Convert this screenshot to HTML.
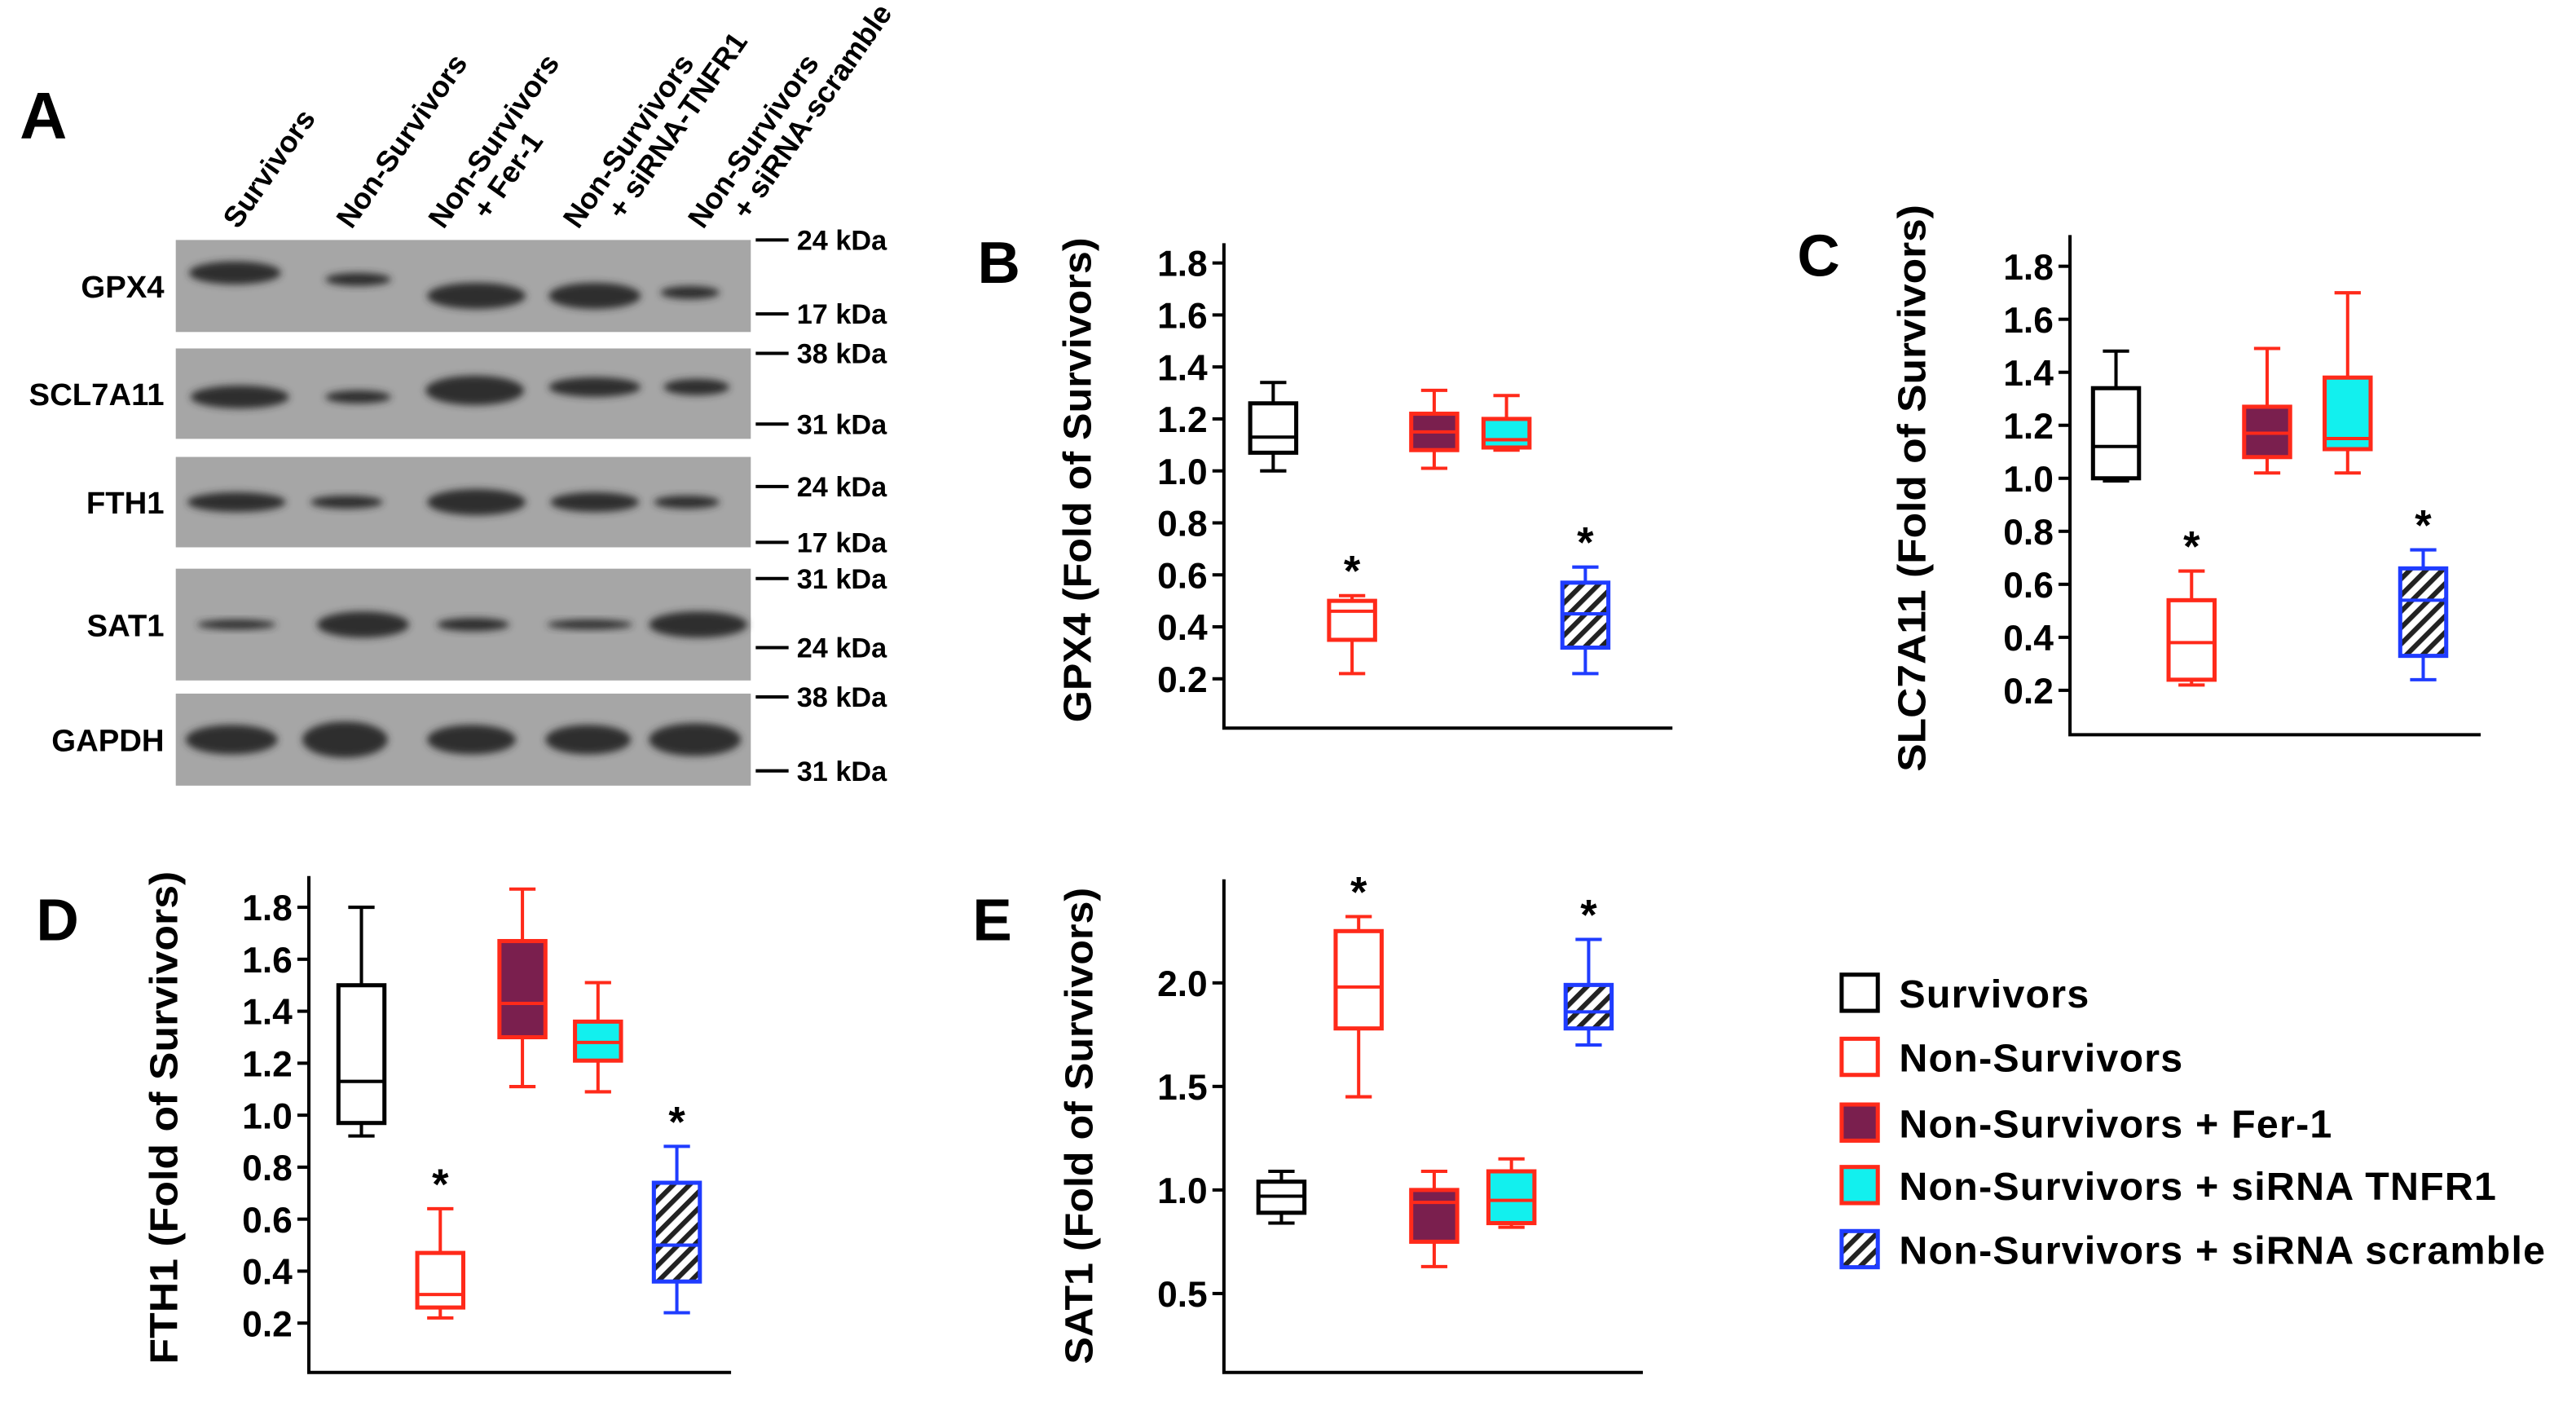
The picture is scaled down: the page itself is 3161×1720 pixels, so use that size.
<!DOCTYPE html>
<html><head><meta charset="utf-8"><style>
html,body{margin:0;padding:0;background:#fff;}
svg{display:block;}
text{font-family:"Liberation Sans",Arial,sans-serif;font-weight:bold;}
</style></head><body>
<svg id="fig" width="3161" height="1720" viewBox="0 0 1568 853" preserveAspectRatio="none" xmlns="http://www.w3.org/2000/svg">
<defs>
<pattern id="hatch" patternUnits="userSpaceOnUse" width="7" height="7" patternTransform="rotate(45)">
<rect width="7" height="7" fill="#fff"/><rect width="3" height="7" fill="#222"/></pattern>
<filter id="blur" x="-20%" y="-50%" width="140%" height="200%"><feGaussianBlur stdDeviation="2.2"/></filter>
</defs>
<g id="panelA"></g>
<g id="charts"></g>
<g id="legend"></g>
</svg>
<script>
const NS='http://www.w3.org/2000/svg';
function mk(tag,attrs,parent,txt){const e=document.createElementNS(NS,tag);for(const k in attrs)e.setAttribute(k,attrs[k]);if(txt!==undefined)e.textContent=txt;parent.appendChild(e);return e;}

// ---------- Panel A (blots) ----------
const A=document.getElementById('panelA');
let t=mk('text',{x:12,y:84,'font-size':40},A,'A');

const laneNames=[['Survivors'],['Non-Survivors'],['Non-Survivors','+ Fer-1'],['Non-Survivors','+ siRNA-TNFR1'],['Non-Survivors','+ siRNA-scramble']];
const laneX=[145,214,270,352,428];
laneNames.forEach((ln,i)=>{
  const g=mk('g',{transform:`translate(${laneX[i]},140) rotate(-55)`},A);
  
  ln.forEach((s,j)=>mk('text',{x:j?20:0,y:j*19,'font-size':18,'font-weight':'normal'},g,s));
});
const blots=[
 {name:'GPX4',y:146,h:56,k:['24 kDa','17 kDa'],kt:[146,191],bands:[[143,13,28,7],[218,9,20,4],[290,15,30,8],[362,14,28,8],[420,12,18,4]],off:[-8,-4,6,6,4]},
 {name:'SCL7A11',y:212,h:55,k:['38 kDa','31 kDa'],kt:[215,258],bands:[[146,13,30,7],[218,9,20,4],[289,15,30,9],[362,13,28,6],[424,10,20,5]],off:[2,2,-2,-4,-4]},
 {name:'FTH1',y:278,h:55,k:['24 kDa','17 kDa'],kt:[296,330],bands:[[144,12,30,6],[211,9,22,4],[290,13,30,8],[362,11,27,6],[418,11,20,4]],off:[0,0,0,0,0]},
 {name:'SAT1',y:346,h:68,k:['31 kDa','24 kDa'],kt:[352,394],bands:[[144,11,24,3],[221,12,28,8],[288,10,22,4],[359,10,26,3],[425,12,30,8]],off:[0,0,0,0,0]},
 {name:'GAPDH',y:422,h:56,k:['38 kDa','31 kDa'],kt:[424,469],bands:[[141,14,28,9],[210,14,26,11],[287,13,27,9],[358,13,26,9],[423,13,28,10]],off:[0,0,0,0,0]}
];
blots.forEach(b=>{
  const g=mk('g',{},A);
  
  mk('rect',{x:107,y:b.y,width:350,height:b.h,fill:'#a6a6a6'},g);
  const cy=b.y+b.h/2;
  b.bands.forEach((bd,i)=>mk('ellipse',{cx:bd[0],cy:cy+b.off[i],rx:bd[2],ry:bd[3],fill:'#2e2e2e',filter:'url(#blur)'},g));
  mk('text',{x:100,y:cy+7,'font-size':19,'text-anchor':'end'},g,b.name);
  b.kt.forEach((ty,j)=>{mk('line',{x1:460,x2:480,y1:ty,y2:ty,stroke:'#000','stroke-width':2},g);
    mk('text',{x:485,y:ty+6,'font-size':17,'font-weight':'normal'},g,b.k[j]);});
});

// ---------- Chart data ----------
const groups=['Survivors','Non-Survivors','Non-Survivors + Fer-1','Non-Survivors + siRNA TNFR1','Non-Survivors + siRNA scramble'];
const gpx4Min=[1.00,0.22,1.01,1.08,0.22], gpx4Q1=[1.07,0.35,1.08,1.09,0.32], gpx4Med=[1.13,0.46,1.15,1.12,0.45], gpx4Q3=[1.26,0.50,1.22,1.20,0.57], gpx4Max=[1.34,0.52,1.31,1.29,0.63];
const slcMin=[0.99,0.22,1.02,1.02,0.24], slcQ1=[1.00,0.24,1.08,1.11,0.33], slcMed=[1.12,0.38,1.17,1.15,0.54], slcQ3=[1.34,0.54,1.27,1.38,0.66], slcMax=[1.48,0.65,1.49,1.70,0.73];
const fthMin=[0.92,0.22,1.11,1.09,0.24], fthQ1=[0.97,0.26,1.30,1.21,0.36], fthMed=[1.13,0.31,1.43,1.28,0.50], fthQ3=[1.50,0.47,1.67,1.36,0.74], fthMax=[1.80,0.64,1.87,1.51,0.88];
const satMin=[0.84,1.45,0.63,0.82,1.70], satQ1=[0.89,1.78,0.75,0.84,1.78], satMed=[0.97,1.98,0.94,0.95,1.86], satQ3=[1.04,2.25,1.00,1.09,1.99], satMax=[1.09,2.32,1.09,1.15,2.21];
const sigFlags=[false,true,false,false,true];
const ticksA=['0.2','0.4','0.6','0.8','1.0','1.2','1.4','1.6','1.8'];
const ticksE=['0.5','1.0','1.5','2.0'];

const strokeC=['#000','#ff2a1a','#ff2a1a','#ff2a1a','#1f3cff'];
const fillC=['#fff','#fff','#7a1f4e','#12f0ee','url(#hatch)'];

function chart(o){
  const g=mk('g',{},document.getElementById('charts'));
  
  const y=v=>o.y0+(v-o.v0)*(o.y1-o.y0)/(o.v1-o.v0);
  let l=mk('text',{x:o.lx,y:o.ly,'font-size':36},g,o.letter);
  
  let ax=mk('path',{d:`M${o.ax},${o.top}V${o.bot}H${o.right}`,fill:'none',stroke:'#000','stroke-width':2},g);
  
  o.ticks.forEach(tk=>{const ty=y(parseFloat(tk));
    mk('line',{x1:o.ax-7,x2:o.ax,y1:ty,y2:ty,stroke:'#000','stroke-width':2},g);
    const tl=mk('text',{x:o.ax-10,y:ty+8,'font-size':22,'text-anchor':'end'},g,tk);
    });
  const tt=mk('text',{x:0,y:0,'font-size':24,'text-anchor':'middle',textLength:o.tl,lengthAdjust:'spacingAndGlyphs',transform:`translate(${o.tx},${o.ty}) rotate(-90)`},g,o.title);
  
  groups.forEach((gn,i)=>{
    const bx=o.xs[i],w=14;
    const bg=mk('g',{},g);
    
    const sc=strokeC[i];
    mk('line',{x1:bx,x2:bx,y1:y(o.mn[i]),y2:y(o.mx[i]),stroke:sc,'stroke-width':2},bg);
    mk('line',{x1:bx-8,x2:bx+8,y1:y(o.mn[i]),y2:y(o.mn[i]),stroke:sc,'stroke-width':2},bg);
    mk('line',{x1:bx-8,x2:bx+8,y1:y(o.mx[i]),y2:y(o.mx[i]),stroke:sc,'stroke-width':2},bg);
    mk('rect',{x:bx-w,y:y(o.q3[i]),width:2*w,height:y(o.q1[i])-y(o.q3[i]),fill:fillC[i],stroke:sc,'stroke-width':2.5},bg);
    mk('line',{x1:bx-w,x2:bx+w,y1:y(o.md[i]),y2:y(o.md[i]),stroke:sc,'stroke-width':2},bg);
    if(sigFlags[i]){const s=mk('text',{x:bx,y:y(o.mx[i])-6,'font-size':26,'text-anchor':'middle'},bg,'*');
      }
  });
}
chart({id:'chart-gpx4',letter:'B',lx:595,ly:172,ax:745,top:148,bot:443,right:1018,v0:1.8,y0:160,v1:0.2,y1:413,ticks:ticksA,xs:[775,823,873,917,965],title:'GPX4 (Fold of Survivors)',tl:295,tx:664,ty:292,mn:gpx4Min,q1:gpx4Q1,md:gpx4Med,q3:gpx4Q3,mx:gpx4Max});
chart({id:'chart-slc7a11',letter:'C',lx:1094,ly:168,ax:1260,top:143,bot:447,right:1510,v0:1.8,y0:162,v1:0.2,y1:420,ticks:ticksA,xs:[1288,1334,1380,1429,1475],title:'SLC7A11 (Fold of Survivors)',tl:345,tx:1172,ty:297,mn:slcMin,q1:slcQ1,md:slcMed,q3:slcQ3,mx:slcMax});
chart({id:'chart-fth1',letter:'D',lx:22,ly:572,ax:188,top:533,bot:835,right:445,v0:1.8,y0:552,v1:0.2,y1:805,ticks:ticksA,xs:[220,268,318,364,412],title:'FTH1 (Fold of Survivors)',tl:300,tx:108,ty:680,mn:fthMin,q1:fthQ1,md:fthMed,q3:fthQ3,mx:fthMax});
chart({id:'chart-sat1',letter:'E',lx:592,ly:572,ax:745,top:535,bot:835,right:1000,v0:2.0,y0:598,v1:0.5,y1:787,ticks:ticksE,xs:[780,827,873,920,967],title:'SAT1 (Fold of Survivors)',tl:290,tx:665,ty:685,mn:satMin,q1:satQ1,md:satMed,q3:satQ3,mx:satMax});

// ---------- Legend ----------
const L=document.getElementById('legend');
const legY=[604,643,683,721,760];
groups.forEach((gn,i)=>{
  const g=mk('g',{},L);
  
  mk('rect',{x:1121,y:legY[i]-11,width:22,height:22,fill:fillC[i],stroke:strokeC[i],'stroke-width':2.5},g);
  mk('text',{x:1156,y:legY[i]+9,'font-size':24,'letter-spacing':0.6},g,gn);
});
</script>
</body></html>
